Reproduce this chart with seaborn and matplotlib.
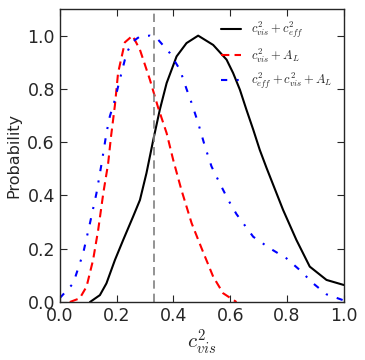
import numpy as np
import pandas as pd
import matplotlib
matplotlib.use('Agg')
import matplotlib.pyplot as plt
import seaborn as sns

sns.set_style('ticks')
plt.rcParams['font.family'] = ['DejaVu Sans']
plt.rcParams['mathtext.fontset'] = 'cm'

#----------------------------------------
# curves
x_black = [0.106, 0.141, 0.164, 0.194, 0.223, 0.258, 0.282, 0.305, 0.329, 0.352, 0.376,
           0.411, 0.446, 0.487, 0.54, 0.587, 0.61, 0.634, 0.657, 0.681, 0.704, 0.728,
           0.786, 0.833, 0.88, 0.939, 1.0]
y_black = [0.0, 0.026, 0.07, 0.158, 0.233, 0.321, 0.383, 0.484, 0.609, 0.722, 0.822,
           0.922, 0.972, 1.0, 0.965, 0.91, 0.86, 0.797, 0.722, 0.647, 0.571, 0.503,
           0.346, 0.233, 0.133, 0.083, 0.064]

x_red = [0.035, 0.07, 0.094, 0.117, 0.135, 0.153, 0.170, 0.18, 0.194, 0.205, 0.229,
         0.256, 0.282, 0.317, 0.346, 0.376, 0.399, 0.428, 0.464, 0.499, 0.54, 0.575,
         0.622]
y_red = [0.0, 0.014, 0.058, 0.158, 0.271, 0.409, 0.52, 0.62, 0.74, 0.86, 0.975,
         1.0, 0.947, 0.835, 0.73, 0.634, 0.534, 0.421, 0.296, 0.202, 0.095, 0.033,
         0.0]

x_blue = [0.0, 0.047, 0.082, 0.106, 0.129, 0.147, 0.164, 0.176, 0.194, 0.211, 0.229,
          0.241, 0.258, 0.282, 0.317, 0.346, 0.387, 0.423, 0.446, 0.464, 0.487, 0.511,
          0.534, 0.563, 0.593, 0.622, 0.681, 0.739, 0.798, 0.845, 0.892, 0.939, 1.0]
y_blue = [0.015, 0.07, 0.183, 0.296, 0.409, 0.52, 0.634, 0.697, 0.76, 0.835, 0.91,
          0.947, 0.979, 0.997, 1.0, 0.985, 0.935, 0.872, 0.80, 0.747, 0.672, 0.584,
          0.509, 0.446, 0.383, 0.33, 0.245, 0.202, 0.164, 0.12, 0.07, 0.029, 0.006]

labels = [r'$c_{vis}^2+c_{eff}^2$', r'$c_{vis}^2+A_L$', r'$c_{eff}^2+c_{vis}^2+A_L$']
x_ref = 0.332

#%%
fig = plt.figure(figsize=(3.65, 3.6), dpi=100)
ax = fig.add_axes([0.164, 0.161, 0.778, 0.814])

sns.lineplot(x=x_black, y=y_black, ax=ax, color='black', lw=1.5, label=labels[0])
sns.lineplot(x=x_red, y=y_red, ax=ax, color='red', lw=1.5, label=labels[1])
sns.lineplot(x=x_blue, y=y_blue, ax=ax, color='blue', lw=1.5, label=labels[2])
ax.get_lines()[1].set_dashes((4, 2.5))
ax.get_lines()[2].set_dashes((3, 4.5, 1, 4.5))
ax.axvline(x_ref, color='gray', lw=1.2, ls='--', dashes=(5, 3))

ax.set_xlim(0, 1)
ax.set_ylim(0, 1.1)
ax.set_xticks(np.arange(0, 1.01, 0.2))
ax.set_yticks(np.arange(0, 1.01, 0.2))
ax.tick_params(direction='in', top=True, right=True, length=5, labelsize=12.5)
for s in ax.spines.values():
    s.set_linewidth(1.0)
ax.set_xlabel(r'$c_{vis}^2$', fontsize=15, labelpad=2)
ax.set_ylabel('Probability', fontsize=11.5)

leg = ax.legend(loc='upper right', frameon=False, fontsize=9, handlelength=1.6,
                bbox_to_anchor=(1.0, 1.0))
# legend handles follow the same dash patterns
leg.get_lines()[1].set_dashes((4, 2.5))
leg.get_lines()[2].set_dashes((3, 4.5, 1, 4.5))

fig.savefig('out.png', dpi=100)
